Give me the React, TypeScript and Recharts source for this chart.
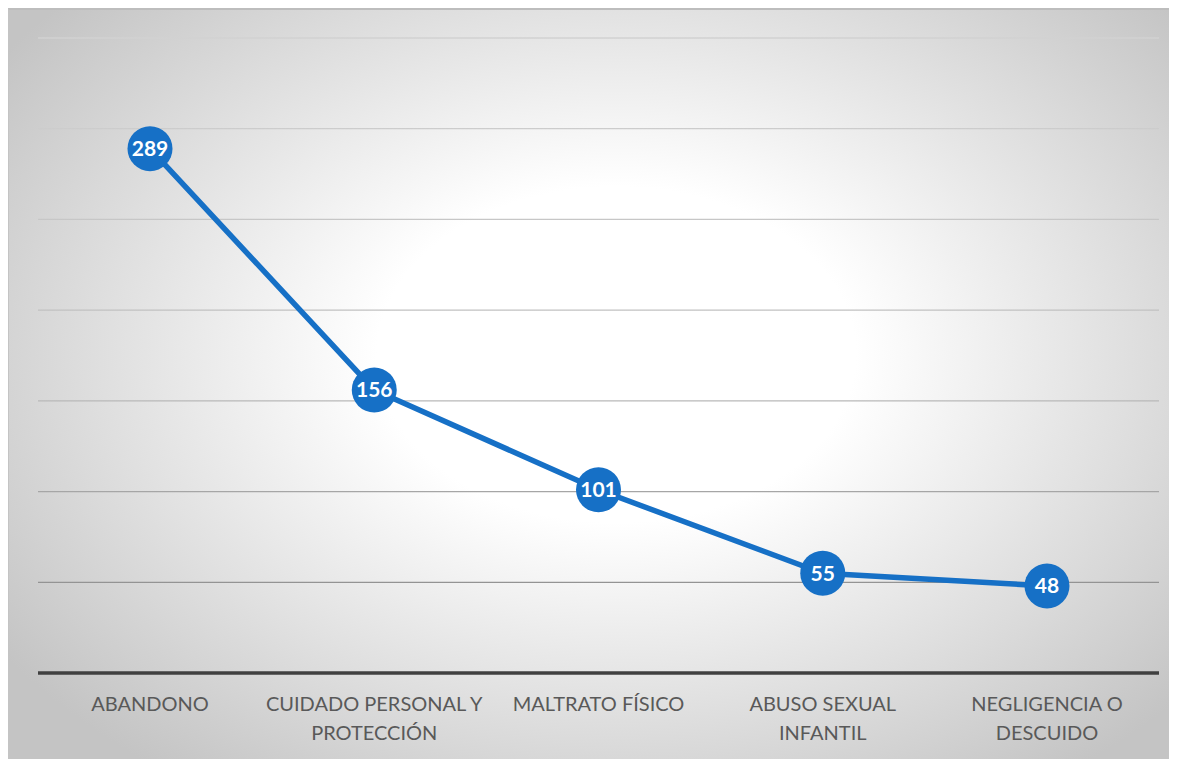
import React from 'react';
import { LineChart, Line, XAxis, YAxis, CartesianGrid, LabelList } from 'recharts';

const categories = [
  'ABANDONO',
  'CUIDADO PERSONAL Y\nPROTECCIÓN',
  'MALTRATO FÍSICO',
  'ABUSO SEXUAL\nINFANTIL',
  'NEGLIGENCIA O\nDESCUIDO'
];
const casos = [289, 156, 101, 55, 48];
const yTicks = [0, 50, 100, 150, 200, 250, 300, 350];

const data = categories.map((name, i) => ({ name, casos: casos[i] }));

const FONT = 'Lato, "Open Sans", sans-serif';
const BLUE = '#1670C6';

const CategoryTick = (props: any) => {
  const { x, y, payload } = props;
  const lines = String(payload.value).split('\n');
  return (
    <g transform={`translate(${x},${y})`}>
      {lines.map((line, i) => (
        <text
          key={i}
          x={0}
          y={30 + i * 29}
          textAnchor="middle"
          fill="#595959"
          fontSize={20}
          fontFamily={FONT}
        >
          {line}
        </text>
      ))}
    </g>
  );
};

const Bubble = (props: any) => {
  const { x, y, value } = props;
  return (
    <g>
      <circle cx={x} cy={y} r={22.5} fill={BLUE} />
      <text
        x={x}
        y={y + 7.5}
        textAnchor="middle"
        fill="#ffffff"
        fontSize={21}
        fontWeight="bold"
        fontFamily={FONT}
      >
        {value}
      </text>
    </g>
  );
};

export default function App() {
  return (
    <div
      style={{
        width: 1169,
        height: 751,
        boxSizing: 'border-box',
        borderTop: '2px solid #bdbdbd',
        borderLeft: '1px solid #c4c4c4',
        background: 'radial-gradient(ellipse 64% 70% at 52% 46%, #ffffff 0%, #ffffff 32%, #c4c4c4 100%)'
      }}
    >
      <LineChart
        width={1168}
        height={749}
        data={data}
        margin={{ top: 28, right: 18, bottom: 0, left: 29 }}
      >
        <defs>
          <linearGradient id="gridFade" gradientUnits="userSpaceOnUse" x1="0" y1="20" x2="0" y2="600">
            <stop offset="0%" stopColor="#d2d2d2" />
            <stop offset="60%" stopColor="#bdbdbd" />
            <stop offset="100%" stopColor="#8e8e8e" />
          </linearGradient>
        </defs>
        <CartesianGrid vertical={false} stroke="url(#gridFade)" strokeWidth={1.3} />
        <YAxis hide domain={[0, 350]} ticks={yTicks} />
        <XAxis
          dataKey="name"
          height={86}
          tickLine={false}
          axisLine={{ stroke: '#404040', strokeWidth: 3.5 }}
          tick={<CategoryTick />}
          interval={0}
          padding={{ left: 112, right: 112 }}
        />
        <Line
          dataKey="casos"
          stroke={BLUE}
          strokeWidth={5.5}
          dot={false}
          isAnimationActive={false}
        >
          <LabelList dataKey="casos" content={<Bubble />} />
        </Line>
      </LineChart>
    </div>
  );
}
